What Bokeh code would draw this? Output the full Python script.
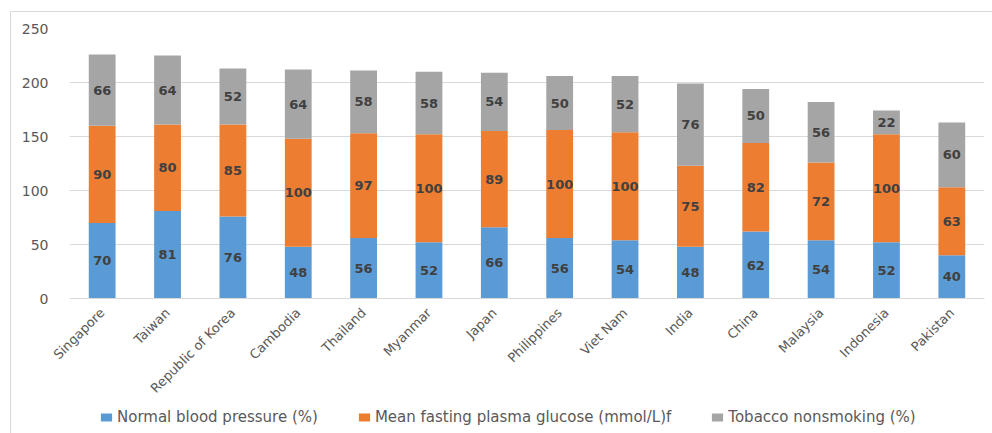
import math

from bokeh.core.properties import value
from bokeh.embed import file_html
from bokeh.layouts import column
from bokeh.resources import INLINE
from bokeh.plotting import figure
from bokeh.models import (ColumnDataSource, FactorRange, Range1d, LabelSet,
                          Legend, LegendItem, SingleIntervalTicker)

countries = ["Singapore", "Taiwan", "Republic of Korea", "Cambodia", "Thailand",
             "Myanmar", "Japan", "Philippines", "Viet Nam", "India", "China",
             "Malaysia", "Indonesia", "Pakistan"]
blood_pressure = [70, 81, 76, 48, 56, 52, 66, 56, 54, 48, 62, 54, 52, 40]
plasma_glucose = [90, 80, 85, 100, 97, 100, 89, 100, 100, 75, 82, 72, 100, 63]
nonsmoking = [66, 64, 52, 64, 58, 58, 54, 50, 52, 76, 50, 56, 22, 60]

series_names = ["Normal blood pressure (%)",
                "Mean fasting plasma glucose (mmol/L)f",
                "Tobacco nonsmoking (%)"]
series_keys = ["bp", "glu", "smk"]
colors = ["#5B9BD5", "#ED7D31", "#A5A5A5"]

FONT = "DejaVu Sans"
TEXT_GREY = "#595959"
GRID_GREY = "#D9D9D9"

source = ColumnDataSource(dict(country=countries, bp=blood_pressure,
                               glu=plasma_glucose, smk=nonsmoking))

# ---- main stacked-bar chart ----
p = figure(frame_width=915, frame_height=270, x_range=FactorRange(*countries),
           y_range=Range1d(0, 250), output_backend="svg",
           toolbar_location=None,
           min_border_left=58, min_border_right=8,
           min_border_top=16, min_border_bottom=0)
p.outline_line_color = None
p.background_fill_color = "white"
p.border_fill_color = "white"

p.vbar_stack(series_keys, x="country", width=0.41, color=colors,
             line_color=None, source=source)

# value labels centred in every segment
bottoms = [0] * len(countries)
for key, vals in zip(series_keys, [blood_pressure, plasma_glucose, nonsmoking]):
    mids = [b + v / 2 for b, v in zip(bottoms, vals)]
    lab_src = ColumnDataSource(dict(x=countries, y=mids,
                                    t=[str(v) for v in vals]))
    p.add_layout(LabelSet(x="x", y="y", text="t", source=lab_src,
                          text_align="center", text_baseline="middle",
                          text_font=value(FONT), text_font_size="13px",
                          text_font_style="bold", text_color="#404040"))
    bottoms = [b + v for b, v in zip(bottoms, vals)]

p.yaxis.ticker = SingleIntervalTicker(interval=50)
p.yaxis.axis_line_color = None
p.yaxis.major_tick_line_color = None
p.yaxis.major_tick_out = 0
p.yaxis.major_tick_in = 0
p.yaxis.minor_tick_line_color = None
p.yaxis.major_label_standoff = 17
p.yaxis.major_label_text_font = FONT
p.yaxis.major_label_text_font_size = "14px"
p.yaxis.major_label_text_color = TEXT_GREY

p.xaxis.axis_line_color = GRID_GREY
p.xaxis.major_tick_line_color = None
p.xaxis.minor_tick_line_color = None
p.xaxis.major_label_orientation = math.pi / 4
p.xaxis.major_label_standoff = 6
p.xaxis.major_label_text_font = FONT
p.xaxis.major_label_text_font_size = "13px"
p.xaxis.major_label_text_color = TEXT_GREY

p.xgrid.grid_line_color = None
p.ygrid.grid_line_color = GRID_GREY
p.ygrid.ticker = SingleIntervalTicker(interval=50)

# ---- legend strip under the chart ----
lg = figure(width=981, height=29, x_range=Range1d(0, 1), y_range=Range1d(0, 1),
            output_backend="svg", toolbar_location=None,
            min_border=0, x_axis_location=None, y_axis_location=None)
lg.outline_line_color = None
lg.xgrid.grid_line_color = None
lg.ygrid.grid_line_color = None
# zero-height swatch renderers: only their legend keys are visible
keys = [lg.vbar(x=[0.5], top=[0], bottom=[0], width=0.1, color=c,
                line_color=None) for c in colors]
legend = Legend(items=[LegendItem(label=n, renderers=[r])
                       for n, r in zip(series_names, keys)],
                orientation="horizontal", location=(30, 6),
                padding=0, margin=0, spacing=39, label_standoff=4,
                glyph_width=14, glyph_height=10, label_height=20,
                border_line_color=None, background_fill_alpha=0,
                label_text_font=FONT, label_text_font_size="15px",
                label_text_color=TEXT_GREY)
lg.add_layout(legend, "center")

page = column(p, lg, spacing=0,
              styles={"margin-left": "10px", "margin-top": "11px",
                      "border-left": "1px solid #D9D9D9",
                      "border-top": "1px solid #D9D9D9"})

open("out.html", "w").write(file_html(page, INLINE))
